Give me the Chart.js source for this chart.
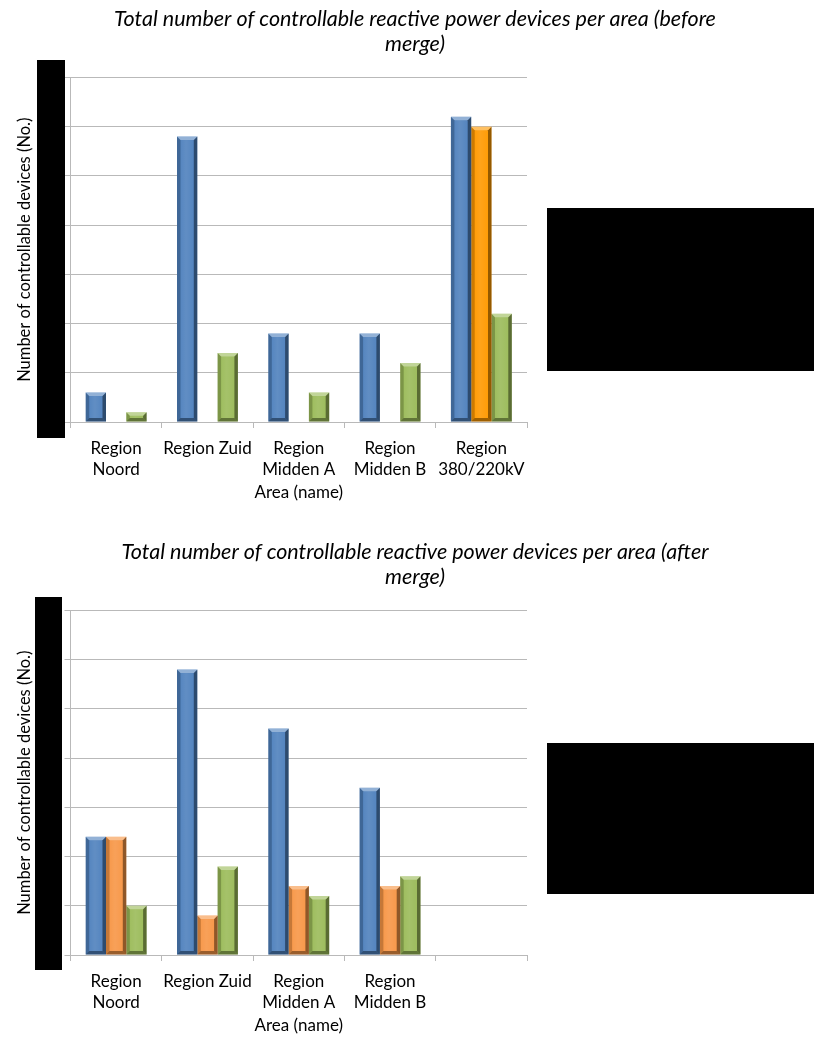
<!DOCTYPE html>
<html>
<head>
<meta charset="utf-8">
<script src="https://cdn.jsdelivr.net/npm/chart.js@4.4.1/dist/chart.umd.min.js"></script>
<style>
  html, body { margin: 0; padding: 0; background: #ffffff; overflow: hidden; }
  body { width: 814px; height: 1039px; position: relative; }
  .panel { position: absolute; left: 0; width: 814px; height: 520px; }
  .mask { position: absolute; background: #000000; }
</style>
</head>
<body>
<div class="panel" style="top:0px"><canvas id="chartBefore" width="814" height="520"></canvas></div>
<div class="panel" style="top:533px"><canvas id="chartAfter" width="814" height="520"></canvas></div>

<!-- redaction blocks over the value axis labels and the legends -->
<div class="mask" style="left:37px; top:60px; width:28px; height:378px"></div>
<div class="mask" style="left:547px; top:208px; width:267px; height:163px"></div>
<div class="mask" style="left:35px; top:597px; width:27px; height:373px"></div>
<div class="mask" style="left:547px; top:743px; width:267px; height:151px"></div>

<script>
// ---- data ----
const categoriesBefore = [['Region', 'Noord'], 'Region Zuid', ['Region', 'Midden A'], ['Region', 'Midden B'], ['Region', '380/220kV']];
const categoriesAfter  = [['Region', 'Noord'], 'Region Zuid', ['Region', 'Midden A'], ['Region', 'Midden B'], ''];

const seriesNames = ['Device type 1', 'Device type 2', 'Device type 3'];

const beforeType1 = [3, 29, 9, 9, 31];
const beforeType2 = [null, null, null, null, 30];
const beforeType3 = [1, 7, 3, 6, 11];

const afterType1 = [12, 29, 23, 17, null];
const afterType2 = [12, 4, 7, 7, null];
const afterType3 = [5, 9, 6, 8, null];

const valueAxisMax = 35;
const valueAxisStep = 5;

const titleBefore = ['Total number of controllable reactive power devices per area (before', 'merge)'];
const titleAfter  = ['Total number of controllable reactive power devices per area (after', 'merge)'];
const xAxisTitle = 'Area (name)';
const yAxisTitle = 'Number of controllable devices (No.)';

// ---- styling ----
const BLUE = '#4F81BD';
const ORANGE_BRIGHT = '#FF9900';
const ORANGE = '#F79646';
const GREEN = '#9BBB59';
const GRID = '#b9b9b9';
const FONT = 'Lato, "Open Sans", "DejaVu Sans", sans-serif';

// Draws bevelled edges on each bar, using the element geometry computed by Chart.js
const bevelPlugin = {
  id: 'bevel',
  afterDatasetsDraw(chart) {
    const ctx = chart.ctx;
    chart.getSortedVisibleDatasetMetas().forEach(meta => {
      const values = chart.data.datasets[meta.index].data;
      meta.data.forEach((bar, i) => {
        if (values[i] == null) return;
        const p = bar.getProps(['x', 'y', 'base', 'width'], true);
        const L = p.x - p.width / 2, R = p.x + p.width / 2;
        const T = Math.min(p.y, p.base), B = Math.max(p.y, p.base);
        const b = Math.min(3.5, (B - T) / 2, p.width / 4);
        const poly = (pts, fill) => {
          ctx.beginPath();
          ctx.moveTo(pts[0][0], pts[0][1]);
          for (let k = 1; k < pts.length; k++) ctx.lineTo(pts[k][0], pts[k][1]);
          ctx.closePath();
          ctx.fillStyle = fill;
          ctx.fill();
        };
        ctx.save();
        // soft highlight across the face
        const g = ctx.createLinearGradient(L, 0, R, 0);
        g.addColorStop(0, 'rgba(255,255,255,0)');
        g.addColorStop(0.45, 'rgba(255,255,255,0.10)');
        g.addColorStop(1, 'rgba(255,255,255,0)');
        ctx.fillStyle = g;
        ctx.fillRect(L + b, T + b, (R - L) - 2 * b, (B - T) - 2 * b);
        poly([[L, T], [L + b, T + b], [L + b, B - b], [L, B]], 'rgba(0,0,0,0.20)');
        poly([[R, T], [R - b, T + b], [R - b, B - b], [R, B]], 'rgba(0,0,0,0.42)');
        poly([[L, B], [L + b, B - b], [R - b, B - b], [R, B]], 'rgba(0,0,0,0.38)');
        poly([[L, T], [R, T], [R - b, T + b], [L + b, T + b]], 'rgba(255,255,255,0.38)');
        ctx.restore();
      });
    });
  }
};

function buildOptions(titleLines) {
  return {
    responsive: false,
    animation: false,
    layout: { padding: { left: 16, right: 0, top: 0, bottom: 0 } },
    datasets: { bar: { categoryPercentage: 0.667, barPercentage: 1.0 } },
    plugins: {
      legend: { display: false },
      tooltip: { enabled: false },
      title: {
        display: true,
        text: titleLines,
        color: '#000000',
        font: { family: FONT, size: 21.5, style: 'italic', weight: 'normal', lineHeight: 1.12 },
        padding: { top: 7.5, bottom: 21.8 }
      }
    },
    scales: {
      x: {
        offset: true,
        grid: { display: true, drawOnChartArea: false, drawTicks: true, tickLength: 6, color: GRID },
        border: { display: true, color: GRID },
        ticks: {
          color: '#000000', autoSkip: false, maxRotation: 0, padding: 10,
          font: { family: FONT, size: 17, lineHeight: 1.25 }
        },
        title: {
          display: true, text: xAxisTitle, color: '#000000',
          font: { family: FONT, size: 17, lineHeight: 1.2 }, padding: { top: 0, bottom: 17 }
        },
        afterFit(scale) { scale.height = 98; }
      },
      y: {
        min: 0,
        max: valueAxisMax,
        ticks: { stepSize: valueAxisStep, display: false },
        grid: { color: GRID, tickLength: 6, drawTicks: true },
        border: { display: true, color: GRID },
        title: {
          display: true, text: yAxisTitle, color: '#000000',
          font: { family: FONT, size: 16.5, lineHeight: 1.0 }, padding: { top: 0, bottom: 0 }
        },
        afterFit(scale) { scale.width = 54.5; }
      },
      legendSpace: {
        position: 'right',
        display: true,
        grid: { display: false },
        border: { display: false },
        ticks: { display: false },
        afterFit(scale) { scale.width = 287; }
      }
    }
  };
}

new Chart(document.getElementById('chartBefore'), {
  type: 'bar',
  data: {
    labels: categoriesBefore,
    datasets: [
      { label: seriesNames[0], data: beforeType1, backgroundColor: BLUE, yAxisID: 'y' },
      { label: seriesNames[1], data: beforeType2, backgroundColor: ORANGE_BRIGHT, yAxisID: 'y' },
      { label: seriesNames[2], data: beforeType3, backgroundColor: GREEN, yAxisID: 'y' }
    ]
  },
  options: buildOptions(titleBefore),
  plugins: [bevelPlugin]
});

new Chart(document.getElementById('chartAfter'), {
  type: 'bar',
  data: {
    labels: categoriesAfter,
    datasets: [
      { label: seriesNames[0], data: afterType1, backgroundColor: BLUE, yAxisID: 'y' },
      { label: seriesNames[1], data: afterType2, backgroundColor: ORANGE, yAxisID: 'y' },
      { label: seriesNames[2], data: afterType3, backgroundColor: GREEN, yAxisID: 'y' }
    ]
  },
  options: buildOptions(titleAfter),
  plugins: [bevelPlugin]
});
</script>
</body>
</html>
